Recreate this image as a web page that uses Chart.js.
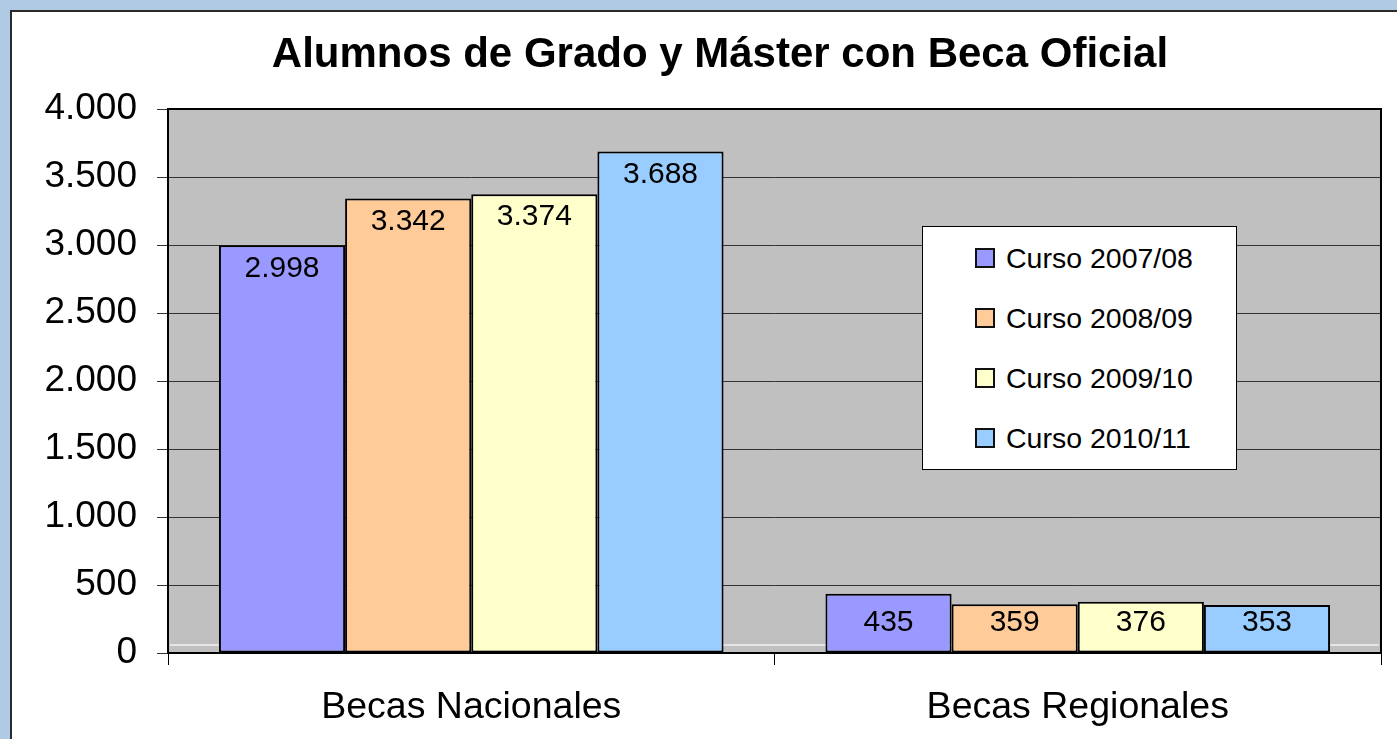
<!DOCTYPE html>
<html>
<head>
<meta charset="utf-8">
<script src="https://cdn.jsdelivr.net/npm/chart.js@4/dist/chart.umd.min.js"></script>
<style>
  html, body { margin: 0; padding: 0; width: 1397px; height: 739px; overflow: hidden; background: #AFCAE2; font-family: Arial, "Liberation Sans", sans-serif; }
  .frame { position: absolute; left: 10px; top: 10px; width: 1400px; height: 740px; background: #fff; border-left: 2px solid #2a2a2a; border-top: 2px solid #2a2a2a; box-sizing: border-box; }
  #c { position: absolute; left: 0; top: 0; }
  #legend { position: absolute; left: 922px; top: 226px; width: 315px; height: 244px; background: #fff; border: 1.5px solid #000; box-sizing: border-box; }
  .item { position: absolute; left: 52px; height: 30px; display: flex; align-items: center; font-size: 28.5px; color: #000; white-space: nowrap; }
  .sw { width: 16px; height: 16px; border: 2px solid #111; margin-right: 11px; }
</style>
</head>
<body>
<div class="frame"></div>
<canvas id="c" width="1397" height="739"></canvas>
<div id="legend"></div>
<script>
const chartTitle = 'Alumnos de Grado y Máster con Beca Oficial';
const categories = ['Becas Nacionales', 'Becas Regionales'];
const seriesNames = ['Curso 2007/08', 'Curso 2008/09', 'Curso 2009/10', 'Curso 2010/11'];
const curso0708 = [2998, 435];
const curso0809 = [3342, 359];
const curso0910 = [3374, 376];
const curso1011 = [3688, 353];
const seriesColors = ['#9999FF', '#FFCC99', '#FFFFCC', '#99CCFF'];
const yTickValues = [0, 500, 1000, 1500, 2000, 2500, 3000, 3500, 4000];

function fmt(v) {
  const s = String(Math.round(v));
  return s.replace(/\B(?=(\d{3})+(?!\d))/g, '.');
}

const FONT = 'Arial, "Liberation Sans", sans-serif';

const plotBg = {
  id: 'plotBg',
  beforeDraw(chart) {
    const { ctx, chartArea: a } = chart;
    ctx.save();
    ctx.fillStyle = '#C0C0C0';
    ctx.fillRect(a.left, a.top, a.right - a.left, a.bottom - a.top);
    ctx.strokeStyle = '#F2F2F2';
    ctx.lineWidth = 1.5;
    ctx.beginPath();
    ctx.moveTo(a.left + 2, a.bottom - 8);
    ctx.lineTo(a.right - 2, a.bottom - 8);
    ctx.stroke();
    ctx.restore();
  },
  beforeDatasetsDraw(chart) {
    const { ctx, chartArea: a } = chart;
    ctx.save();
    ctx.strokeStyle = '#000';
    ctx.lineWidth = 2;
    ctx.strokeRect(a.left, a.top, a.right - a.left, a.bottom - a.top);
    ctx.restore();
  },
  afterDraw(chart) {
    const { ctx } = chart;
    ctx.save();
    ctx.font = 'bold 42px ' + FONT;
    ctx.fillStyle = '#000';
    ctx.textAlign = 'center';
    ctx.textBaseline = 'middle';
    ctx.fillText(chartTitle, 720, 55);
    ctx.restore();
  }
};

const barLabels = {
  id: 'barLabels',
  afterDatasetsDraw(chart) {
    const { ctx } = chart;
    const base = chart.scales.y.getPixelForValue(0);
    ctx.save();
    ctx.font = '30px ' + FONT;
    ctx.fillStyle = '#000';
    ctx.textAlign = 'center';
    ctx.textBaseline = 'middle';
    chart.data.datasets.forEach((ds, i) => {
      chart.getDatasetMeta(i).data.forEach((bar, j) => {
        const h = base - bar.y;
        const y = h < 100 ? base - 30 : bar.y + 23;
        ctx.fillText(fmt(ds.data[j]), bar.x, y);
      });
    });
    ctx.restore();
  }
};

const allSeries = [curso0708, curso0809, curso0910, curso1011];

new Chart(document.getElementById('c'), {
  type: 'bar',
  data: {
    labels: categories,
    datasets: allSeries.map((d, i) => ({
      label: seriesNames[i],
      data: d,
      backgroundColor: seriesColors[i],
      borderColor: '#000',
      borderWidth: 2,
      borderSkipped: false,
      categoryPercentage: 0.832,
      barPercentage: 1.0
    }))
  },
  options: {
    responsive: false,
    devicePixelRatio: 1,
    animation: false,
    layout: { padding: { left: 30, right: 16, top: 109, bottom: 10 } },
    plugins: {
      legend: { display: false },
      tooltip: { enabled: false },
      title: { display: false }
    },
    scales: {
      x: {
        offset: true,
        grid: { offset: true, drawOnChartArea: false, drawTicks: true, tickLength: 12, color: '#000', lineWidth: 1 },
        border: { display: false },
        ticks: { color: '#000', font: { family: FONT, size: 37.5 }, padding: 20, maxRotation: 0 },
        afterFit(axis) { axis.height = 76; }
      },
      y: {
        min: 0,
        max: 4000,
        afterBuildTicks(axis) { axis.ticks = yTickValues.map(v => ({ value: v })); },
        grid: { color: '#333', lineWidth: 1, tickLength: 11, drawTicks: true },
        border: { display: false },
        ticks: { color: '#000', font: { family: FONT, size: 37 }, padding: 20, callback: v => fmt(v) },
        afterFit(axis) { axis.width = 138; }
      }
    }
  },
  plugins: [plotBg, barLabels]
});

const lg = document.getElementById('legend');
seriesNames.forEach((name, i) => {
  const it = document.createElement('div');
  it.className = 'item';
  it.style.top = (16 + i * 60) + 'px';
  const sw = document.createElement('div');
  sw.className = 'sw';
  sw.style.background = seriesColors[i];
  const t = document.createElement('span');
  t.textContent = name;
  it.appendChild(sw);
  it.appendChild(t);
  lg.appendChild(it);
});
</script>
</body>
</html>
